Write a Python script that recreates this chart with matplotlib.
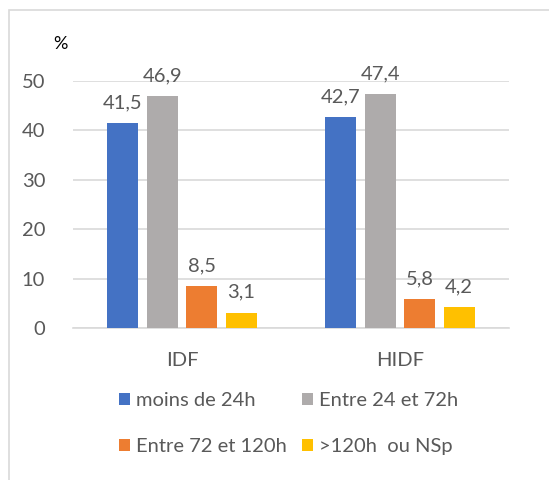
import numpy as np
import matplotlib.pyplot as plt
from matplotlib.patches import Rectangle

categories = ['IDF', 'HIDF']
series = ['moins de 24h', 'Entre 24 et 72h', 'Entre 72 et 120h', '>120h  ou NSp']
values = [
    [41.5, 42.7],
    [46.9, 47.4],
    [8.5, 5.8],
    [3.1, 4.2],
]
colors = ['#4472C4', '#AEABAB', '#ED7D31', '#FFC000']
yticks = [0, 10, 20, 30, 40, 50]

plt.rcParams['font.family'] = ['Lato', 'DejaVu Sans']
txt = '#595959'
fs = 14.5

W, H = 549, 480
fig = plt.figure(figsize=(W / 100, H / 100), dpi=100)

# outer frame (cropped on right and bottom)
fig.patches.append(Rectangle((9 / W, -0.1), 1.2, 1.1 - 10 / H, transform=fig.transFigure,
                             fill=False, edgecolor='#D9D9D9', linewidth=1.2))

ax = fig.add_axes([73 / W, 1 - 328 / H, (509 - 73) / W, (328 - 81) / H])
x = np.arange(len(categories))
width = 0.142
offsets = np.array([-1.5, -0.5, 0.5, 1.5]) * 0.181

handles = []
for i, name in enumerate(series):
    bars = ax.bar(x + offsets[i], values[i], width, color=colors[i], label=name, zorder=3)
    handles.append(bars)
    for xi, v in zip(x + offsets[i], values[i]):
        ax.text(xi, v + 2.4, f'{v:.1f}'.replace('.', ','), ha='center', va='bottom',
                fontsize=fs, color=txt, clip_on=False)

ax.set_xlim(-0.5, 1.5)
ax.set_ylim(0, 50)
ax.set_yticks(yticks)
ax.set_yticklabels([str(t) for t in yticks], fontsize=fs, color=txt)
ax.set_xticks(x)
ax.set_xticklabels(categories, fontsize=fs, color=txt)
ax.tick_params(axis='both', length=0)
ax.tick_params(axis='y', pad=20)
ax.tick_params(axis='x', pad=17)
ax.grid(axis='y', color='#D9D9D9', linewidth=1.2, zorder=0)
for s in ['top', 'right', 'left']:
    ax.spines[s].set_visible(False)
ax.spines['bottom'].set_color('#D9D9D9')
ax.spines['bottom'].set_linewidth(1.2)
ax.set_facecolor('none')

fig.text(60 / W, 1 - 44 / H, '%', ha='center', va='center', fontsize=fs - 1.5, color='black')

order = [0, 2, 1, 3]
leg = fig.legend([handles[i] for i in order], [series[i] for i in order], ncol=2,
                 loc='upper left', bbox_to_anchor=(119 / W, 1 - 392 / H),
                 frameon=False, fontsize=fs, handlelength=0.55, handleheight=0.55,
                 handletextpad=0.3, labelspacing=1.45, columnspacing=0.75, borderpad=0,
                 borderaxespad=0)
for t in leg.get_texts():
    t.set_color(txt)

fig.savefig('out.png', dpi=100)
